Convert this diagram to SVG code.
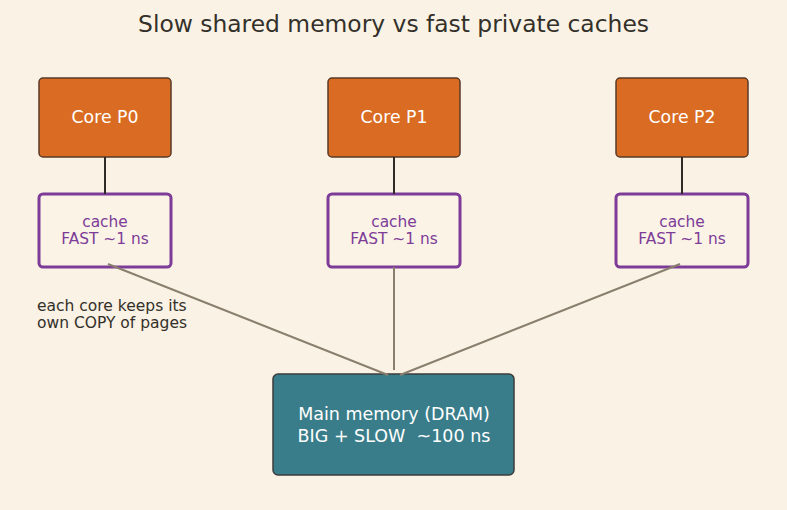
<svg xmlns="http://www.w3.org/2000/svg" width="787" height="510" viewBox="0 0 787 510">
<style>
text{font-family:"DejaVu Sans","Liberation Sans",sans-serif;white-space:pre}
.core rect{fill:#d96c22;stroke:#5a3a28;stroke-width:1.5}
.core text{fill:#ffffff;font-size:17.3px;text-anchor:middle}
.cache rect{fill:#fbf3e6;stroke:#7d3c98;stroke-width:3}
.cache text{fill:#7d3c98;font-size:15.4px;text-anchor:middle}
.mem rect{fill:#3a7d8a;stroke:#3d3d3d;stroke-width:1.5}
.mem text{fill:#ffffff;font-size:17.5px;text-anchor:middle}
.c1{stroke:#2e2a25;stroke-width:2;fill:none}
.c2{stroke:#8a7f6e;stroke-width:2;fill:none}
</style>
<rect width="787" height="510" fill="#faf2e4"/>
<text x="393.5" y="32" font-size="23.4" fill="#33302a" text-anchor="middle">Slow shared memory vs fast private caches</text>
<g id="core0" class="core"><rect x="39" y="78" width="132" height="79" rx="4"/><text x="105" y="123">Core P0</text></g>
<g id="core1" class="core"><rect x="328" y="78" width="132" height="79" rx="4"/><text x="394" y="123">Core P1</text></g>
<g id="core2" class="core"><rect x="616" y="78" width="132" height="79" rx="4"/><text x="682" y="123">Core P2</text></g>
<g id="cache0" class="cache"><rect x="39" y="194" width="132" height="73" rx="4"/><text x="105" y="227">cache</text><text x="105" y="244">FAST ~1 ns</text></g>
<g id="cache1" class="cache"><rect x="328" y="194" width="132" height="73" rx="4"/><text x="394" y="227">cache</text><text x="394" y="244">FAST ~1 ns</text></g>
<g id="cache2" class="cache"><rect x="616" y="194" width="132" height="73" rx="4"/><text x="682" y="227">cache</text><text x="682" y="244">FAST ~1 ns</text></g>
<g id="memory" class="mem"><rect x="273" y="374" width="241" height="101" rx="5"/><text x="394" y="420">Main memory (DRAM)</text><text x="394" y="442">BIG + SLOW  ~100 ns</text></g>
<g id="note"><text x="37" y="311" font-size="15.5" fill="#33302a">each core keeps its</text><text x="37" y="328" font-size="15.5" fill="#33302a">own COPY of pages</text></g>
<g id="connectors">
<line class="c1" x1="105" y1="157" x2="105" y2="194"/>
<line class="c1" x1="394" y1="157" x2="394" y2="194"/>
<line class="c1" x1="682" y1="157" x2="682" y2="194"/>
<line class="c2" x1="108" y1="264" x2="388" y2="375"/>
<line class="c2" x1="394" y1="267" x2="394" y2="370"/>
<line class="c2" x1="680" y1="264" x2="400" y2="375"/>
</g>
</svg>
